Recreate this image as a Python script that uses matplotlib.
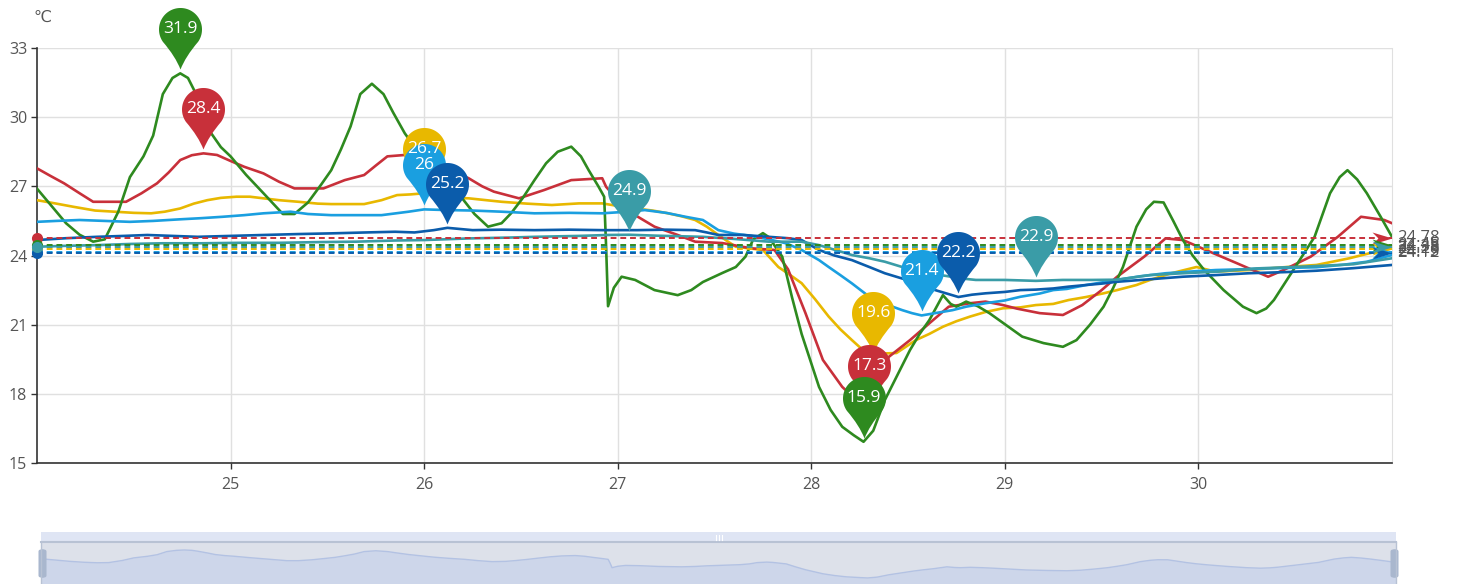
import numpy as np
import matplotlib
matplotlib.use("Agg")
import matplotlib.pyplot as plt
from matplotlib.path import Path
from matplotlib.patches import Rectangle, FancyBboxPatch
from matplotlib.lines import Line2D

plt.rcParams['font.family'] = ['Open Sans', 'Noto Sans CJK SC', 'DejaVu Sans']

# ---------------- data (day of month, temperature in ℃) ----------------
green_days = [24.00, 24.08, 24.15, 24.22, 24.29, 24.35, 24.42, 24.48, 24.55, 24.60, 24.65, 24.70, 24.74, 24.78,
              24.81, 24.86, 24.90, 24.95, 25.00, 25.08, 25.17, 25.27, 25.33, 25.40, 25.47, 25.52, 25.57, 25.62,
              25.67, 25.73, 25.79, 25.84, 25.90, 25.96, 26.03, 26.10, 26.19, 26.26, 26.33, 26.40, 26.45, 26.51,
              26.57, 26.63, 26.69, 26.76, 26.81, 26.85, 26.90, 26.93, 26.94, 26.95, 26.98, 27.02, 27.09, 27.19,
              27.31, 27.38, 27.44, 27.54, 27.61, 27.66, 27.70, 27.75, 27.78, 27.85, 27.90, 27.95, 28.04, 28.10,
              28.16, 28.22, 28.27, 28.32, 28.38, 28.45, 28.51, 28.56, 28.61, 28.68, 28.72, 28.75, 28.80, 28.86,
              28.92, 29.02, 29.09, 29.20, 29.30, 29.37, 29.44, 29.51, 29.56, 29.61, 29.68, 29.73, 29.77, 29.82,
              29.87, 29.92, 29.97, 30.03, 30.13, 30.23, 30.30, 30.35, 30.39, 30.49, 30.60, 30.68, 30.73, 30.77,
              30.82, 30.87, 30.94, 31.00]
green_vals = [26.9, 26.1, 25.4, 24.9, 24.6, 24.7, 25.9, 27.4, 28.3, 29.2, 31.0, 31.7, 31.9, 31.7,
              31.2, 30.2, 29.3, 28.7, 28.3, 27.5, 26.7, 25.8, 25.8, 26.3, 27.1, 27.7, 28.6, 29.6,
              31.0, 31.45, 31.0, 30.2, 29.3, 28.6, 27.8, 27.2, 26.55, 25.8, 25.25, 25.4, 25.84, 26.5,
              27.27, 28.0, 28.5, 28.72, 28.3, 27.7, 27.0, 26.55, 24.4, 21.8, 22.6, 23.08, 22.94, 22.5,
              22.28, 22.5, 22.85, 23.24, 23.5, 23.95, 24.7, 24.97, 24.8, 23.95, 22.2, 20.6, 18.3, 17.3,
              16.57, 16.2, 15.92, 16.4, 17.73, 18.9, 19.9, 20.6, 21.2, 22.28, 21.9, 21.78, 22.0, 21.8,
              21.5, 20.9, 20.48, 20.2, 20.04, 20.33, 21.0, 21.78, 22.6, 23.5, 25.25, 26.0, 26.33, 26.3,
              25.5, 24.67, 24.0, 23.37, 22.5, 21.78, 21.5, 21.7, 22.07, 23.37, 24.81, 26.7, 27.4, 27.7,
              27.3, 26.7, 25.7, 24.81]

red_days = [24.00, 24.07, 24.14, 24.22, 24.29, 24.38, 24.46, 24.54, 24.62, 24.68, 24.74, 24.80, 24.86, 24.93,
            25.00, 25.07, 25.17, 25.25, 25.33, 25.40, 25.48, 25.59, 25.69, 25.75, 25.81, 25.90, 25.96, 26.05,
            26.14, 26.23, 26.30, 26.36, 26.49, 26.62, 26.76, 26.92, 26.94, 27.00, 27.09, 27.19, 27.31, 27.40,
            27.54, 27.69, 27.81, 27.88, 27.97, 28.06, 28.16, 28.25, 28.30, 28.35, 28.40, 28.51, 28.61, 28.71,
            28.82, 28.90, 28.99, 29.06, 29.18, 29.30, 29.40, 29.50, 29.58, 29.72, 29.83, 29.92, 30.06, 30.20,
            30.36, 30.44, 30.58, 30.72, 30.84, 30.96, 31.00]
red_vals = [27.78, 27.45, 27.13, 26.7, 26.33, 26.33, 26.33, 26.7, 27.13, 27.6, 28.14, 28.35, 28.43, 28.36,
            28.1, 27.85, 27.56, 27.2, 26.91, 26.91, 26.91, 27.27, 27.49, 27.9, 28.3, 28.36, 28.38, 28.0,
            27.7, 27.35, 27.0, 26.77, 26.48, 26.84, 27.27, 27.35, 26.98, 26.4, 25.75, 25.25, 24.89, 24.6,
            24.54, 24.31, 24.24, 23.4, 21.5, 19.47, 18.3, 17.6, 17.3, 18.2, 19.6, 20.33, 21.06, 21.78,
            21.93, 22.0, 21.85, 21.7, 21.5, 21.42, 21.85, 22.5, 23.08, 23.95, 24.74, 24.67, 24.16, 23.66,
            23.08, 23.37, 23.95, 24.81, 25.68, 25.54, 25.4]

yellow_days = [24.00, 24.10, 24.19, 24.30, 24.40, 24.50, 24.59, 24.66, 24.74, 24.81, 24.88, 24.95, 25.03, 25.10,
               25.17, 25.25, 25.35, 25.45, 25.52, 25.60, 25.69, 25.78, 25.86, 25.93, 26.00, 26.08, 26.15, 26.23,
               26.32, 26.40, 26.53, 26.66, 26.80, 26.92, 27.00, 27.09, 27.18, 27.26, 27.33, 27.40, 27.46, 27.52,
               27.57, 27.61, 27.68, 27.75, 27.83, 27.90, 27.95, 28.02, 28.09, 28.15, 28.21, 28.26, 28.32, 28.37,
               28.44, 28.54, 28.61, 28.68, 28.75, 28.82, 28.90, 28.99, 29.08, 29.16, 29.25, 29.33, 29.42, 29.51,
               29.58, 29.68, 29.75, 29.86, 29.99, 30.09, 30.26, 30.44, 30.61, 30.78, 30.88, 31.00]
yellow_vals = [26.4, 26.25, 26.11, 25.95, 25.9, 25.85, 25.83, 25.9, 26.04, 26.25, 26.4, 26.5, 26.55, 26.55,
               26.48, 26.4, 26.33, 26.25, 26.23, 26.23, 26.23, 26.4, 26.62, 26.65, 26.7, 26.6, 26.5, 26.48,
               26.4, 26.33, 26.25, 26.19, 26.26, 26.26, 26.15, 26.04, 25.95, 25.83, 25.7, 25.54, 25.25, 24.89,
               24.6, 24.38, 24.31, 24.24, 23.5, 23.1, 22.8, 22.1, 21.35, 20.8, 20.33, 19.95, 19.6, 19.75,
               19.77, 20.33, 20.6, 20.91, 21.15, 21.35, 21.55, 21.71, 21.75, 21.85, 21.9, 22.07, 22.2, 22.36,
               22.5, 22.72, 22.94, 23.23, 23.5, 23.3, 23.37, 23.49, 23.59, 23.88, 24.09, 24.31]

lblue_days = [24.00, 24.10, 24.22, 24.35, 24.48, 24.60, 24.74, 24.85, 24.96, 25.07, 25.17, 25.31, 25.40, 25.52,
              25.65, 25.78, 25.92, 26.00, 26.12, 26.25, 26.40, 26.57, 26.75, 26.92, 27.05, 27.14, 27.25, 27.35,
              27.44, 27.52, 27.60, 27.69, 27.78, 27.87, 27.95, 28.04, 28.09, 28.15, 28.21, 28.30, 28.38, 28.47,
              28.52, 28.57, 28.64, 28.73, 28.80, 28.90, 29.00, 29.08, 29.18, 29.25, 29.32, 29.42, 29.58, 29.70,
              29.83, 29.95, 30.09, 30.22, 30.36, 30.50, 30.61, 30.75, 30.87, 31.00]
lblue_vals = [25.46, 25.5, 25.54, 25.5, 25.46, 25.5, 25.57, 25.62, 25.68, 25.75, 25.83, 25.9, 25.8, 25.75,
              25.75, 25.75, 25.9, 26.0, 25.97, 25.95, 25.9, 25.83, 25.85, 25.83, 25.9, 25.97, 25.85, 25.68,
              25.54, 25.1, 24.95, 24.85, 24.7, 24.53, 24.24, 23.8, 23.5, 23.15, 22.79, 22.21, 21.9, 21.63,
              21.5, 21.4, 21.5, 21.63, 21.78, 21.93, 22.05, 22.21, 22.35, 22.5, 22.55, 22.72, 22.94, 23.1,
              23.23, 23.3, 23.37, 23.4, 23.44, 23.47, 23.49, 23.6, 23.73, 24.02]

dblue_days = [24.00, 24.15, 24.31, 24.45, 24.57, 24.70, 24.83, 25.00, 25.17, 25.35, 25.52, 25.70, 25.85, 25.95,
              26.05, 26.12, 26.25, 26.40, 26.57, 26.75, 26.92, 27.10, 27.25, 27.40, 27.46, 27.52, 27.65, 27.78,
              27.88, 27.95, 28.04, 28.12, 28.21, 28.30, 28.38, 28.47, 28.56, 28.64, 28.70, 28.76, 28.83, 28.90,
              29.00, 29.08, 29.16, 29.25, 29.33, 29.42, 29.50, 29.58, 29.75, 29.92, 30.09, 30.26, 30.45, 30.61,
              30.80, 31.00]
dblue_vals = [24.67, 24.75, 24.81, 24.85, 24.89, 24.85, 24.81, 24.85, 24.89, 24.93, 24.96, 25.0, 25.03, 25.0,
              25.1, 25.2, 25.1, 25.12, 25.1, 25.12, 25.1, 25.1, 25.12, 25.1, 25.0, 24.89, 24.89, 24.81,
              24.75, 24.67, 24.24, 24.0, 23.8, 23.5, 23.23, 23.0, 22.79, 22.5, 22.35, 22.2, 22.3, 22.36,
              22.42, 22.5, 22.52, 22.57, 22.65, 22.72, 22.78, 22.86, 22.97, 23.08, 23.15, 23.23, 23.28, 23.34,
              23.45, 23.59]

teal_days = [24.00, 24.15, 24.31, 24.48, 24.65, 24.85, 25.05, 25.25, 25.45, 25.65, 25.85, 26.00, 26.23, 26.45,
             26.57, 26.80, 26.95, 27.06, 27.20, 27.44, 27.60, 27.78, 27.95, 28.04, 28.12, 28.21, 28.30, 28.38,
             28.47, 28.56, 28.67, 28.78, 28.85, 29.00, 29.16, 29.30, 29.45, 29.58, 29.62, 29.75, 29.92, 30.10,
             30.30, 30.55, 30.80, 31.00]
teal_vals = [24.38, 24.42, 24.45, 24.5, 24.53, 24.53, 24.55, 24.55, 24.58, 24.6, 24.65, 24.67, 24.74, 24.78,
             24.81, 24.85, 24.89, 24.9, 24.86, 24.81, 24.72, 24.6, 24.6, 24.45, 24.25, 24.02, 23.88, 23.73,
             23.5, 23.3, 23.15, 23.0, 22.94, 22.94, 22.9, 22.94, 22.94, 22.95, 23.0, 23.15, 23.23, 23.3,
             23.44, 23.52, 23.62, 23.88]

# average mark-line values (as labelled on the chart)
averages = {'yellow': 24.28, 'red': 24.78, 'green': 24.45, 'lblue': 24.15, 'dblue': 24.12, 'teal': 24.38}

x_ticks = [25, 26, 27, 28, 29, 30]
y_ticks = [15, 18, 21, 24, 27, 30, 33]
y_unit = '℃'

series = [
    ('yellow', yellow_days, yellow_vals, '#e8b800'),
    ('red', red_days, red_vals, '#c8303a'),
    ('green', green_days, green_vals, '#2e8a1f'),
    ('lblue', lblue_days, lblue_vals, '#1a9fe0'),
    ('dblue', dblue_days, dblue_vals, '#0b5cab'),
    ('teal', teal_days, teal_vals, '#3a9ca7'),
]

# ---------------- layout ----------------
W, H = 1463, 584
fig = plt.figure(figsize=(W / 100, H / 100), dpi=100)


def pxbox(x0, y0, x1, y1):
    return [x0 / W, 1 - y1 / H, (x1 - x0) / W, (y1 - y0) / H]


ax = fig.add_axes(pxbox(37, 48, 1392, 463))
ax.set_xlim(24, 31)
ax.set_ylim(15, 33)
ax.set_xticks(x_ticks)
ax.set_yticks(y_ticks)
ax.grid(True, color='#e0e0e0', lw=1.0, zorder=0)
ax.set_axisbelow(True)
ax.spines['top'].set_visible(False)
ax.spines['right'].set_color('#e0e0e0')
ax.spines['left'].set_color('#333333')
ax.spines['bottom'].set_color('#333333')
ax.spines['left'].set_linewidth(1.2)
ax.spines['bottom'].set_linewidth(1.2)
ax.tick_params(axis='both', colors='#333333', length=4, width=1, labelsize=11.5,
               labelcolor='#555555')
ax.tick_params(axis='x', pad=6)
ax.tick_params(axis='y', pad=3)
fig.text(42 / W, 1 - 17 / H, y_unit, ha='center', va='center', fontsize=11.5, color='#555555',
         family=['DejaVu Sans'])

# pin marker: tip slightly above the point, head circle above
r, cy, off = 21.5, 44.0, 4.0
ang = np.linspace(np.radians(-35), np.radians(215), 60)
head = [(r * np.cos(a), cy + r * np.sin(a)) for a in ang]
verts = head + [(-5, 17), (0, off), (5, 17), head[0], head[0]]
codes = [Path.MOVETO] + [Path.LINETO] * (len(head) - 1) + [Path.CURVE3, Path.CURVE3, Path.CURVE3,
                                                         Path.CURVE3, Path.CLOSEPOLY]
pin_path = Path(verts, codes)
pin_top = cy + r
pin_ms = pin_top * 2 * 72 / 100

arrow_path = Path([(0, 0), (-20, 6), (-14, 0), (-20, -6), (0, 0)],
                  [Path.MOVETO, Path.LINETO, Path.LINETO, Path.LINETO, Path.CLOSEPOLY])


def fmt(v):
    v = round(v, 1)
    return ('%d' % v) if abs(v - round(v)) < 1e-9 else ('%.1f' % v)


for i, (name, d, v, c) in enumerate(series):
    ax.plot(d, v, color=c, lw=1.9, zorder=3 + i * 0.1, solid_joinstyle='round')

for i, (name, d, v, c) in enumerate(series):
    avg = averages[name]
    ax.plot([24, 31], [avg, avg], color=c, lw=1.4, ls=(0, (3, 2)), zorder=4)
    ax.plot([24], [avg], marker='o', ms=8, color=c, mec='none', zorder=4.5, clip_on=False)
    ax.plot([31], [avg], marker=arrow_path, ms=20 * 2 * 0.72, color=c, mec='none', zorder=4.5, clip_on=False)
    ax.annotate('%.2f' % avg, xy=(31, avg), xytext=(4, 0), textcoords='offset points',
                ha='left', va='center', fontsize=12, color='#555555', annotation_clip=False)

for i, (name, d, v, c) in enumerate(series):
    arr = np.array(v)
    for idx in (int(np.argmax(arr)), int(np.argmin(arr))):
        x0, y0 = d[idx], v[idx]
        ax.plot([x0], [y0], marker=pin_path, ms=pin_ms, color=c, mec='none', zorder=10 + i, clip_on=False)
        ax.annotate(fmt(y0), xy=(x0, y0), xytext=(0, cy * 0.72), textcoords='offset points',
                    ha='center', va='center', fontsize=12.5, color='white', zorder=30,
                    annotation_clip=False)

# ---------------- data zoom slider ----------------
fig.patches.append(Rectangle((41 / W, 1 - 542 / H), 1355 / W, 10 / H, transform=fig.transFigure,
                             facecolor='#dfe5f4', edgecolor='none'))
sax = fig.add_axes(pxbox(41, 542, 1396, 584))
sax.set_xlim(24, 31)
sax.set_ylim(12.47, 36.47)
sax.set_facecolor('#dde1ea')
sax.fill_between(green_days, green_vals, 12.47, color='#cdd6ea', lw=0)
sax.plot(green_days, green_vals, color='#b3c2e3', lw=1.0)
sax.set_xticks([])
sax.set_yticks([])
for s in sax.spines.values():
    s.set_visible(False)
fig.add_artist(Line2D([41 / W, 1396 / W], [1 - 542 / H, 1 - 542 / H], color='#b8c2d4', lw=1.5))
for xx in (41, 1396):
    fig.add_artist(Line2D([xx / W, xx / W], [0, 1 - 542 / H], color='#b8c2d4', lw=1.0))
for xx in (42.5, 1394.5):
    fig.patches.append(FancyBboxPatch(((xx - 4) / W, 1 - 578 / H), 8 / W, 29 / H,
                                      boxstyle='round,pad=0,rounding_size=0.004',
                                      transform=fig.transFigure, facecolor='#a9b7ce', edgecolor='none'))
for xx in (716, 719, 722):
    fig.add_artist(Line2D([xx / W, xx / W], [1 - 539.5 / H, 1 - 535 / H], color='white', lw=0.8))

fig.savefig('out.png', dpi=100)
